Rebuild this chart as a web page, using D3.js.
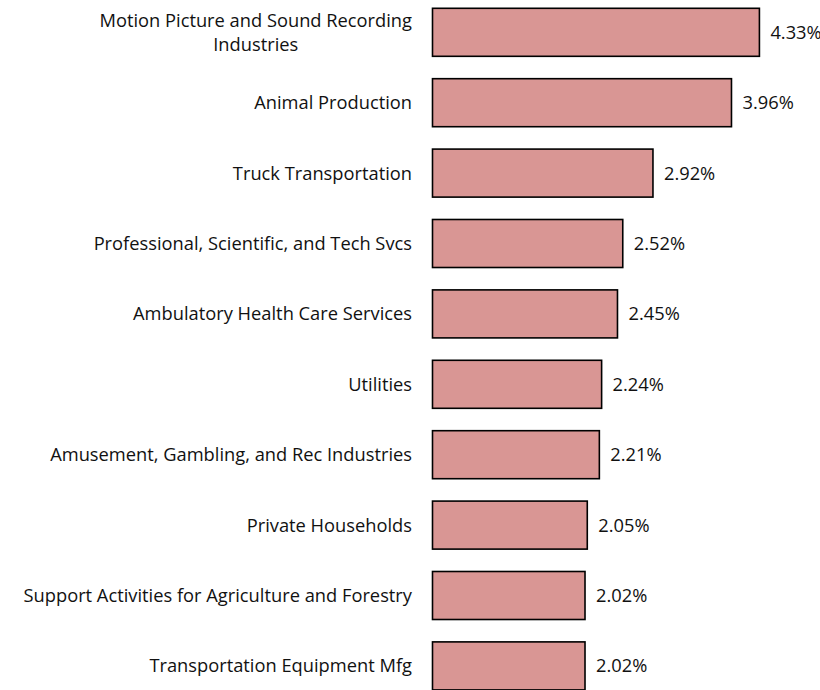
<!DOCTYPE html>
<html>
<head>
<meta charset="utf-8">
<script src="https://cdn.jsdelivr.net/npm/d3@7"></script>
<style>
  html, body { margin: 0; padding: 0; background: #fff; overflow: hidden; }
  svg { display: block; }
  text { font-family: "Open Sans", "Noto Sans", sans-serif; fill: #111; }
</style>
</head>
<body>
<svg id="chart"></svg>
<script>
// industries, top to bottom ("\n" marks the wrapped line)
const categories = [
    "Motion Picture and Sound Recording\nIndustries",
    "Animal Production",
    "Truck Transportation",
    "Professional, Scientific, and Tech Svcs",
    "Ambulatory Health Care Services",
    "Utilities",
    "Amusement, Gambling, and Rec Industries",
    "Private Households",
    "Support Activities for Agriculture and Forestry",
    "Transportation Equipment Mfg"
];
const values = [4.33, 3.96, 2.92, 2.52, 2.45, 2.24, 2.21, 2.05, 2.02, 2.02];

const width = 820;
const height = 690;
const fontSize = 18.3;
const lineHeight = 24.5;

const svg = d3.select("#chart")
    .attr("width", width)
    .attr("height", height);

const x = d3.scaleLinear()
    .domain([0, 5])
    .range([432.5, 432.5 + 5 * 75.5]);

const y = d3.scaleBand()
    .domain(categories)
    .range([-2.9, -2.9 + 704])
    .paddingInner(0.318)
    .paddingOuter(0.159);

const rows = svg.selectAll("g.row")
    .data(categories.map((c, i) => ({ name: c, value: values[i] })))
    .join("g")
    .attr("class", "row");

// bars
rows.append("rect")
    .attr("x", x(0))
    .attr("y", d => y(d.name))
    .attr("width", d => x(d.value) - x(0))
    .attr("height", y.bandwidth())
    .attr("fill", "#d99694")
    .attr("stroke", "#000")
    .attr("stroke-width", 1.6);

// category labels, right edge at 412, wrapped lines centred on each other
rows.each(function (d) {
    const lines = d.name.split("\n");
    const cy = y(d.name) + y.bandwidth() / 2;
    const t = d3.select(this).append("text")
        .attr("font-size", fontSize)
        .attr("text-anchor", "middle");
    lines.forEach((line, i) => {
        t.append("tspan")
            .attr("x", 0)
            .attr("y", cy + (i - (lines.length - 1) / 2) * lineHeight)
            .attr("dy", "0.36em")
            .text(line);
    });
    let maxW = 0;
    t.selectAll("tspan").each(function () {
        maxW = Math.max(maxW, this.getComputedTextLength());
    });
    t.selectAll("tspan").attr("x", 412 - maxW / 2);
});

// value labels
rows.append("text")
    .attr("x", d => x(d.value) + 11)
    .attr("y", d => y(d.name) + y.bandwidth() / 2)
    .attr("dy", "0.36em")
    .attr("font-size", fontSize)
    .text(d => d.value.toFixed(2) + "%");
</script>
</body>
</html>
